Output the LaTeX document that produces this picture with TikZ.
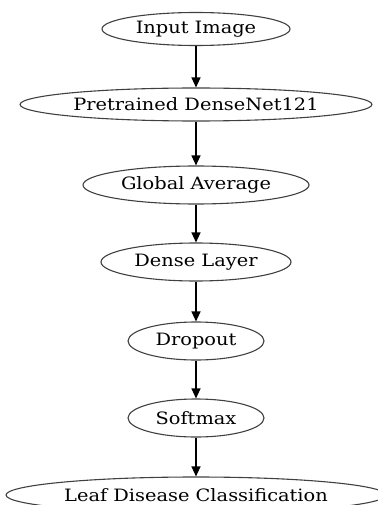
\documentclass[tikz,border=0pt]{standalone}
\usepackage{fontspec}
\setmainfont{DejaVu Serif}[FakeStretch=1.14]
\usetikzlibrary{shapes.geometric,arrows.meta}
\begin{document}
\begin{tikzpicture}[x=1pt,y=-1pt,
  stage/.style={ellipse,draw=black!75,line width=1.1pt,inner sep=0pt,font=\fontsize{17}{20}\selectfont},
  flow/.style={line width=1.2pt,-{Triangle[length=10pt,width=9pt]}}]
\useasboundingbox (0,0) rectangle (377,505);
\node[stage,minimum width=188pt,minimum height=33pt] (in) at (196,29) {Input Image};
\node[stage,minimum width=352pt,minimum height=33pt] (pre) at (196,104.5) {Pretrained DenseNet121};
\node[stage,minimum width=226pt,minimum height=38pt] (gap) at (196,185) {Global Average};
\node[stage,minimum width=190pt,minimum height=38pt] (dense) at (196,262) {Dense Layer};
\node[stage,minimum width=136pt,minimum height=38pt] (drop) at (196,341) {Dropout};
\node[stage,minimum width=136pt,minimum height=38pt] (soft) at (196,418) {Softmax};
\node[stage,minimum width=380pt,minimum height=36pt] (leaf) at (196,495) {Leaf Disease Classification};
\draw[flow] (in) -- (pre);
\draw[flow] (pre) -- (gap);
\draw[flow] (gap) -- (dense);
\draw[flow] (dense) -- (drop);
\draw[flow] (drop) -- (soft);
\draw[flow] (soft) -- (leaf);
\end{tikzpicture}
\end{document}
